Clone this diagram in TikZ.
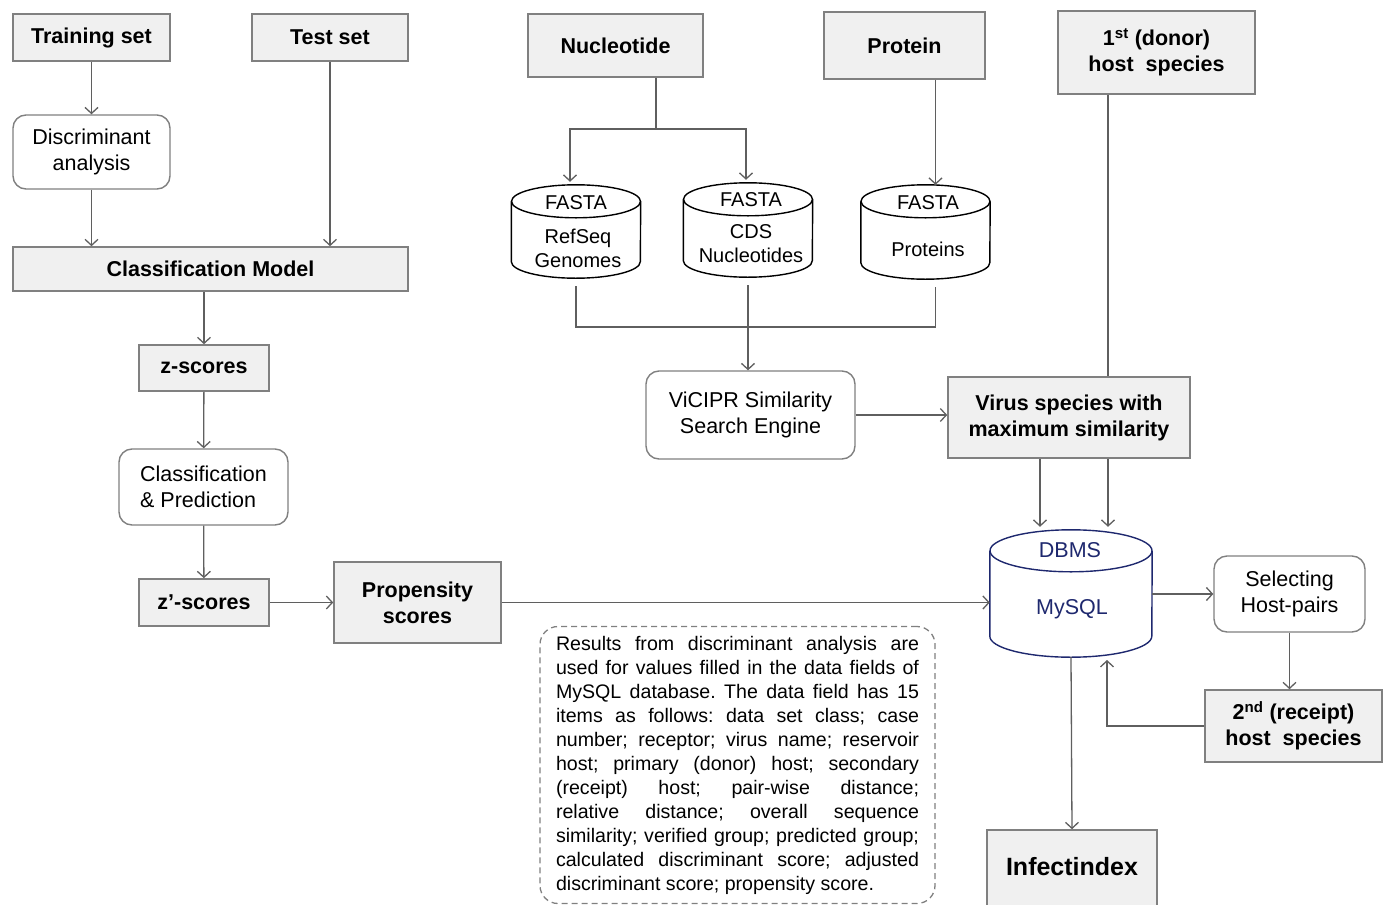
\documentclass[tikz,border=0pt]{standalone}
\usepackage{fontspec}
\setmainfont{Liberation Sans}
\usetikzlibrary{arrows.meta,calc}

\definecolor{boxline}{RGB}{128,128,128}
\definecolor{boxfill}{RGB}{240,240,240}
\definecolor{wirecol}{RGB}{95,95,95}
\definecolor{dbnavy}{RGB}{30,40,110}

\begin{document}
\frenchspacing
\begin{tikzpicture}[x=1pt, y=-1pt,
    box/.style={draw=boxline, fill=boxfill, line width=1.6pt, inner sep=0pt, align=center, font=\fontsize{21.5}{26}\selectfont\bfseries},
    rbox/.style={draw=boxline, fill=white, line width=1.4pt, rounded corners=13pt, inner sep=0pt, align=center, font=\fontsize{21.5}{26}\selectfont},
    cyl/.style={inner sep=0pt},
    cyltext/.style={align=center, inner sep=0pt, font=\fontsize{20}{24}\selectfont},
    wire/.style={draw=wirecol, line width=1.3pt},
    flow/.style={wire, -{Straight Barb[length=6pt,width=13pt]}}]

    \useasboundingbox (0,0) rectangle (1390,905);

    \node[box, minimum width=157pt, minimum height=47pt] (train) at (91.5,37.5) {Training set};
    \node[box, minimum width=156pt, minimum height=47pt] (test) at (330,37.5) {Test set};
    \node[rbox, minimum width=157pt, minimum height=74pt] (disc) at (91.5,152) {Discriminant\\analysis};
    \node[box, minimum width=395pt, minimum height=44pt] (model) at (210.5,269) {Classification Model};
    \node[box, minimum width=130pt, minimum height=46pt] (zs) at (204,368) {z-scores};
    \node[rbox, minimum width=169pt, minimum height=76pt, align=left] (clspred) at (203.5,487) {Classification\\\& Prediction};
    \node[box, minimum width=130pt, minimum height=47pt] (zps) at (204,602.5) {z’-scores};
    \node[box, minimum width=167pt, minimum height=81pt] (prop) at (417.5,602.5) {Propensity\\scores};

    \node[box, minimum width=175pt, minimum height=63pt] (nuc) at (615.5,45.5) {Nucleotide};
    \node[box, minimum width=161pt, minimum height=67pt] (prot) at (904.5,45.5) {Protein};
    \node[box, minimum width=197pt, minimum height=83pt] (host1) at (1156.5,52.5) {1\textsuperscript{st} (donor)\\host\ \ species};

    \node[cyl, minimum width=129pt, minimum height=93pt] (refseq) at (576,231.5) {};
    \node[cyl, minimum width=129pt, minimum height=94pt] (cds) at (748,230) {};
    \node[cyl, minimum width=129pt, minimum height=94pt] (protcyl) at (925.5,232) {};
    \node[cyl, minimum width=162pt, minimum height=127pt] (dbms) at (1071,593.5) {};
    \foreach \n/\c/\rx/\ry in {refseq/black/64.5/16.5, cds/black/64.5/16.5, protcyl/black/64.5/16.5, dbms/dbnavy/81/21} {
        \draw[draw=\c, line width=1.4pt] ($(\n.north)+(0,\ry)$) ellipse[x radius=\rx pt, y radius=\ry pt];
        \draw[draw=\c, line width=1.4pt] ($(\n.north west)+(0,\ry)$) -- ($(\n.south west)+(0,-\ry)$)
            arc[start angle=180, end angle=360, x radius=\rx pt, y radius=\ry pt] -- ($(\n.north east)+(0,\ry)$);
    }
    \node[cyltext] (fa1) at (576,203) {FASTA}; \node[cyltext] (rg) at (578,248) {RefSeq\\Genomes};
    \node[cyltext] (fa2) at (751,200) {FASTA}; \node[cyltext] (cn) at (751,244) {CDS\\Nucleotides};
    \node[cyltext] (fa3) at (928,203) {FASTA}; \node[cyltext] (pr) at (928,249) {Proteins};
    \node[cyltext, text=dbnavy, font=\fontsize{21.5}{26}\selectfont] (dbt) at (1070,550) {DBMS};
    \node[cyltext, text=dbnavy, font=\fontsize{21.5}{26}\selectfont] (myt) at (1072,609) {MySQL};

    \node[rbox, minimum width=209pt, minimum height=88pt] (vicipr) at (750.5,415) {ViCIPR Similarity\\Search Engine};
    \node[box, minimum width=242pt, minimum height=81pt] (virus) at (1069,417.5) {Virus species with\\maximum similarity};

    \node[rbox, minimum width=151pt, minimum height=76pt] (sel) at (1289.5,594) {Selecting\\Host-pairs};
    \node[box, minimum width=177pt, minimum height=72pt] (host2) at (1293.5,726) {2\textsuperscript{nd} (receipt)\\host\ \ species};
    \node[box, minimum width=170pt, minimum height=84pt, font=\fontsize{25}{30}\selectfont\bfseries, text height=18pt, text depth=12pt] (infect) at (1072,872) {Infectindex};

    \node[draw=boxline, line width=1.3pt, dash pattern=on 6pt off 4pt, rounded corners=18pt, text width=363pt, align=justify,
          inner xsep=16pt, inner ysep=0pt, minimum height=277pt, font=\fontsize{19.6}{24}\selectfont] (note) at (737.5,765)
        {Results from discriminant analysis are\linebreak
         used for values filled in the data fields of\linebreak
         MySQL database. The data field has 15\linebreak
         items as follows: data set class; case\linebreak
         number; receptor; virus name; reservoir\linebreak
         host; primary (donor) host; secondary\linebreak
         (receipt) host; pair-wise distance;\linebreak
         relative distance; overall sequence\linebreak
         similarity; verified group; predicted group;\linebreak
         calculated discriminant score; adjusted\linebreak
         discriminant score; propensity score.};

    \draw[flow] (train) -- (disc);
    \draw[flow] (disc.south) -- (disc.south |- model.north);
    \draw[flow] (test.south) -- (test.south |- model.north);
    \draw[flow] (zs.north |- model.south) -- (zs.north);
    \draw[flow] (zs) -- (clspred);
    \draw[flow] (clspred) -- (zps);
    \draw[flow] (zps) -- (prop);
    \draw[flow] (prop.east) -- (prop.east -| dbms.west);

    \coordinate (nsplit) at (656,129);
    \draw[wire] (nsplit |- nuc.south) -- (nsplit);
    \draw[flow] (nsplit) -| ($(refseq.north)+(-6,-3)$); \draw[flow] (nsplit) -| ($(cds.north)+(-2,-3)$);
    \coordinate (px) at ($(prot.south)+(31,0)$);
    \draw[flow] (px) -- (px |- protcyl.north);

    \coordinate (jn) at (748,327);
    \draw[wire, shorten <=8pt, shorten >=8pt] (refseq.south) |- (px |- jn) -- (px |- protcyl.south);
    \draw[flow, shorten <=8pt] (cds.south) -- (cds.south |- vicipr.north);
    \draw[flow] (vicipr.east) -- (vicipr.east -| virus.west);

    \coordinate (hx) at (1108,0); \coordinate (vx) at (1040,0);
    \draw[wire] (hx |- host1.south) -- (hx |- virus.north);
    \draw[flow] (hx |- virus.south) -- ($(hx |- dbms.north)+(0,-3)$);
    \draw[flow] (vx |- virus.south) -- ($(vx |- dbms.north)+(0,-3)$);

    \draw[flow] (sel.west -| dbms.east) -- (sel.west);
    \draw[flow] (sel.south) -- (sel.south |- host2.north);
    \coordinate (back) at (1107,660);
    \draw[flow] (host2.west) -| (back);
    \draw[flow] (dbms.south) -- (infect.north);
\end{tikzpicture}
\end{document}
